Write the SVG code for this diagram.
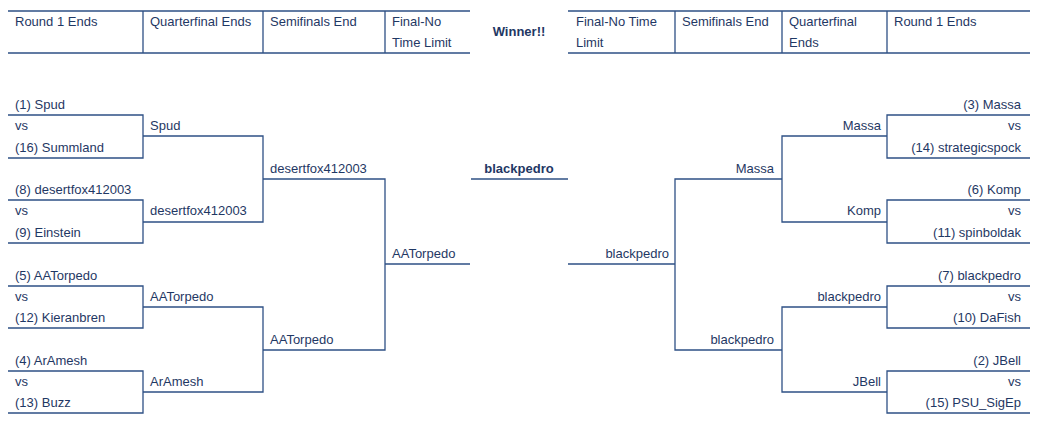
<svg xmlns="http://www.w3.org/2000/svg" width="1037" height="425" viewBox="0 0 1037 425">
<style>
text{font-family:"Liberation Sans",Arial,sans-serif;font-size:13px;fill:#1f3864}
.b{font-weight:bold}
.r{text-anchor:end}
.c{text-anchor:middle}
line,path{stroke:#2e5085;stroke-width:1.3;fill:none}
</style>
<rect width="1037" height="425" fill="#fff"/>
<g id="header">
<path d="M8 11H470M8 53H470M143 11V53M263 11V53M385 11V53M568 11H1030M568 53H1030M675 11V53M782 11V53M887 11V53"/>
<text x="15" y="26">Round 1 Ends</text>
<text x="150" y="26">Quarterfinal Ends</text>
<text x="270" y="26">Semifinals End</text>
<text x="392" y="26">Final-No</text><text x="392" y="47">Time Limit</text>
<text x="519" y="36" class="b c">Winner!!</text>
<text x="576" y="26">Final-No Time</text><text x="576" y="47">Limit</text>
<text x="682" y="26">Semifinals End</text>
<text x="789" y="26">Quarterfinal</text><text x="789" y="47">Ends</text>
<text x="894" y="26">Round 1 Ends</text>
</g>
<g id="connectors">
<path d="M8 115H143V158H8M8 200H143V243H8M8 286H143V328H8M8 371H143V413H8"/>
<path d="M143 136H263V222H143M143 307H263V392H143"/>
<path d="M263 179H385V350H263M385 264H470"/>
<path d="M471 179H568"/>
<path d="M1030 115H887V158H1030M1030 200H887V243H1030M1030 286H887V328H1030M1030 371H887V413H1030"/>
<path d="M887 136H782V222H887M887 307H782V392H887"/>
<path d="M782 179H675V350H782M675 264H568"/>
</g>
<g id="left-r1">
<text x="15" y="109">(1) Spud</text><text x="15" y="130">vs</text><text x="15" y="152">(16) Summland</text>
<text x="15" y="194">(8) desertfox412003</text><text x="15" y="215">vs</text><text x="15" y="237">(9) Einstein</text>
<text x="15" y="280">(5) AATorpedo</text><text x="15" y="301">vs</text><text x="15" y="322">(12) Kieranbren</text>
<text x="15" y="365">(4) ArAmesh</text><text x="15" y="386">vs</text><text x="15" y="407">(13) Buzz</text>
</g>
<g id="left-qf">
<text x="150" y="130">Spud</text><text x="150" y="215">desertfox412003</text>
<text x="150" y="301">AATorpedo</text><text x="150" y="386">ArAmesh</text>
</g>
<g id="left-sf">
<text x="270" y="173">desertfox412003</text><text x="270" y="344">AATorpedo</text>
</g>
<g id="left-final"><text x="392" y="258">AATorpedo</text></g>
<g id="winner"><text x="519" y="173" class="b c">blackpedro</text></g>
<g id="right-final"><text x="669" y="258" class="r">blackpedro</text></g>
<g id="right-sf">
<text x="774" y="173" class="r">Massa</text><text x="774" y="344" class="r">blackpedro</text>
</g>
<g id="right-qf">
<text x="881" y="130" class="r">Massa</text><text x="881" y="215" class="r">Komp</text>
<text x="881" y="301" class="r">blackpedro</text><text x="881" y="386" class="r">JBell</text>
</g>
<g id="right-r1">
<text x="1021" y="109" class="r">(3) Massa</text><text x="1021" y="130" class="r">vs</text><text x="1021" y="152" class="r">(14) strategicspock</text>
<text x="1021" y="194" class="r">(6) Komp</text><text x="1021" y="215" class="r">vs</text><text x="1021" y="237" class="r">(11) spinboldak</text>
<text x="1021" y="280" class="r">(7) blackpedro</text><text x="1021" y="301" class="r">vs</text><text x="1021" y="322" class="r">(10) DaFish</text>
<text x="1021" y="365" class="r">(2) JBell</text><text x="1021" y="386" class="r">vs</text><text x="1021" y="407" class="r">(15) PSU_SigEp</text>
</g>
</svg>
